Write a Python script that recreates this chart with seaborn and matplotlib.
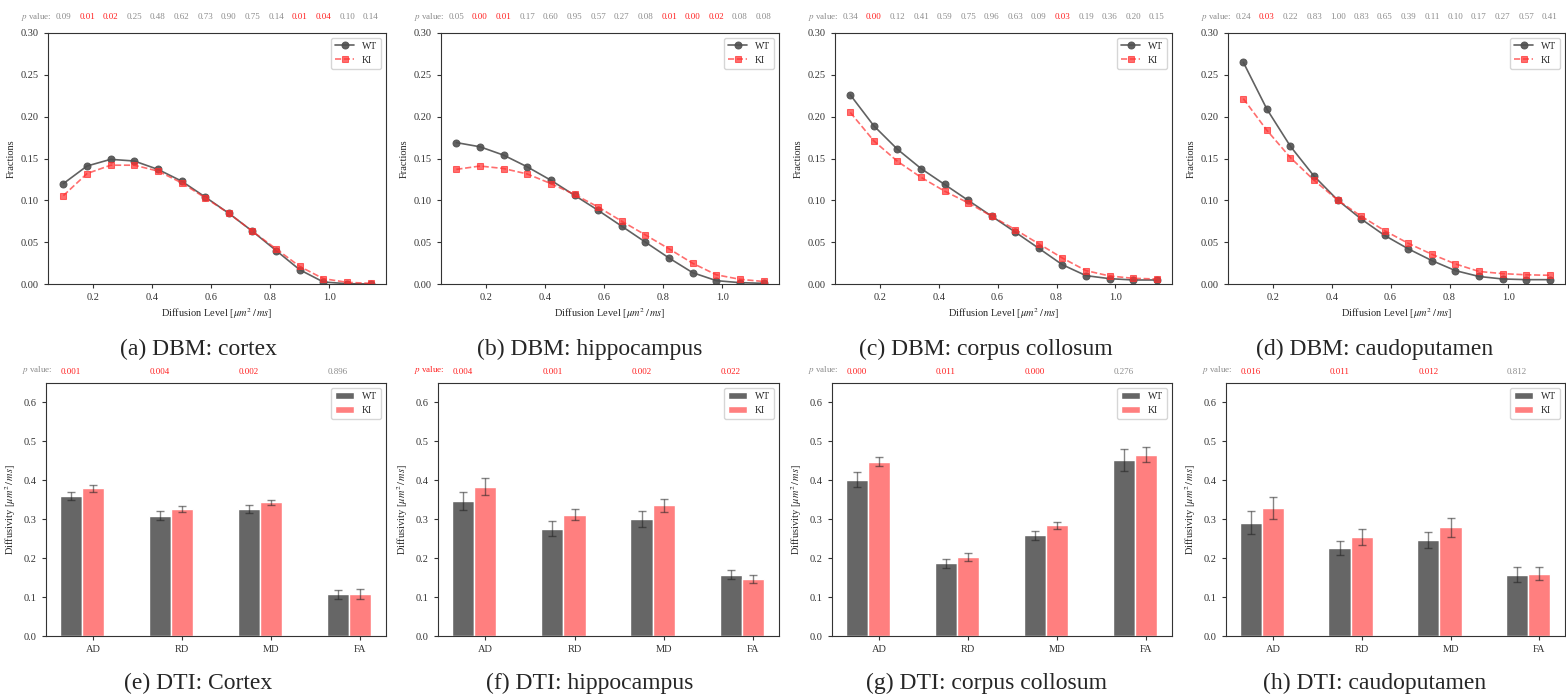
import numpy as np
import pandas as pd
import matplotlib
matplotlib.use('Agg')
import matplotlib.pyplot as plt
import seaborn as sns

# diffusion levels for the DBM histograms
levels = [0.10, 0.18, 0.26, 0.34, 0.42, 0.50, 0.58, 0.66, 0.74, 0.82, 0.90, 0.98, 1.06, 1.14]

cortex_wt = [0.120, 0.141, 0.149, 0.147, 0.137, 0.123, 0.104, 0.0845, 0.063, 0.040, 0.017, 0.0024, 0.0004, 0.0]
cortex_ki = [0.1056, 0.132, 0.142, 0.142, 0.135, 0.121, 0.103, 0.0845, 0.063, 0.042, 0.021, 0.0064, 0.002, 0.0008]
hippo_wt = [0.169, 0.164, 0.154, 0.140, 0.124, 0.106, 0.088, 0.069, 0.050, 0.031, 0.0135, 0.004, 0.0016, 0.0008]
hippo_ki = [0.137, 0.141, 0.138, 0.1315, 0.120, 0.107, 0.092, 0.075, 0.0586, 0.042, 0.0247, 0.011, 0.0056, 0.003]
cc_wt = [0.226, 0.189, 0.161, 0.138, 0.119, 0.100, 0.081, 0.062, 0.0426, 0.023, 0.010, 0.0064, 0.0048, 0.0048]
cc_ki = [0.205, 0.171, 0.1466, 0.1275, 0.111, 0.097, 0.081, 0.065, 0.048, 0.031, 0.016, 0.0096, 0.0068, 0.006]
cp_wt = [0.265, 0.209, 0.1645, 0.129, 0.1004, 0.0777, 0.058, 0.042, 0.028, 0.016, 0.009, 0.006, 0.0052, 0.0052]
cp_ki = [0.2215, 0.1837, 0.151, 0.124, 0.1004, 0.081, 0.0637, 0.0486, 0.0355, 0.024, 0.015, 0.0124, 0.011, 0.0104]

cortex_p = [0.09, 0.01, 0.02, 0.25, 0.48, 0.62, 0.73, 0.90, 0.75, 0.14, 0.01, 0.04, 0.10, 0.14]
hippo_p = [0.05, 0.00, 0.01, 0.17, 0.60, 0.95, 0.57, 0.27, 0.08, 0.01, 0.00, 0.02, 0.08, 0.08]
cc_p = [0.34, 0.00, 0.12, 0.41, 0.59, 0.75, 0.96, 0.63, 0.09, 0.03, 0.19, 0.36, 0.20, 0.15]
cp_p = [0.24, 0.03, 0.22, 0.83, 1.00, 0.83, 0.65, 0.39, 0.11, 0.10, 0.17, 0.27, 0.57, 0.41]

# DTI measures
measures = ['AD', 'RD', 'MD', 'FA']

dti_cortex_wt = [0.360, 0.309, 0.326, 0.107]
dti_cortex_wt_err = [0.010, 0.012, 0.011, 0.011]
dti_cortex_ki = [0.379, 0.326, 0.343, 0.108]
dti_cortex_ki_err = [0.008, 0.007, 0.007, 0.014]
dti_cortex_p = ['0.001', '0.004', '0.002', '0.896']

dti_hippo_wt = [0.347, 0.276, 0.300, 0.158]
dti_hippo_wt_err = [0.024, 0.019, 0.020, 0.012]
dti_hippo_ki = [0.384, 0.312, 0.336, 0.1455]
dti_hippo_ki_err = [0.021, 0.015, 0.017, 0.010]
dti_hippo_p = ['0.004', '0.001', '0.002', '0.022']

dti_cc_wt = [0.402, 0.187, 0.2586, 0.452]
dti_cc_wt_err = [0.019, 0.012, 0.012, 0.028]
dti_cc_ki = [0.448, 0.203, 0.284, 0.466]
dti_cc_ki_err = [0.011, 0.011, 0.009, 0.019]
dti_cc_p = ['0.000', '0.011', '0.000', '0.276']

dti_cp_wt = [0.291, 0.225, 0.2466, 0.158]
dti_cp_wt_err = [0.029, 0.018, 0.021, 0.018]
dti_cp_ki = [0.3296, 0.255, 0.279, 0.160]
dti_cp_ki_err = [0.028, 0.021, 0.025, 0.017]
dti_cp_p = ['0.016', '0.011', '0.012', '0.812']

top_captions = ['(a) DBM: cortex', '(b) DBM: hippocampus', '(c) DBM: corpus collosum', '(d) DBM: caudoputamen']
bottom_captions = ['(e) DTI: Cortex', '(f) DTI: hippocampus', '(g) DTI: corpus collosum', '(h) DTI: caudoputamen']

sns.set_style('ticks')
plt.rcParams['font.family'] = ['Liberation Serif', 'DejaVu Serif']
plt.rcParams['mathtext.fontset'] = 'stix'
plt.rcParams['axes.edgecolor'] = '#333333'
plt.rcParams['xtick.color'] = '#333333'
plt.rcParams['ytick.color'] = '#333333'

GRAY = '#8c8c8c'
RED = '#ff2020'

W, H = 1566, 696
fig = plt.figure(figsize=(W / 100, H / 100), dpi=100)

def px_axes(left, top, right, bottom):
    return fig.add_axes([left / W, 1 - bottom / H, (right - left) / W, (bottom - top) / H])

top_lefts = [48, 441, 835, 1228]
top_rights = [386, 779, 1172, 1565]
bot_lefts = [46, 438, 832, 1226]
bot_rights = [386, 779, 1172, 1565]
caption_x = [198, 590, 986, 1375]

line_data = [(cortex_wt, cortex_ki, cortex_p), (hippo_wt, hippo_ki, hippo_p),
             (cc_wt, cc_ki, cc_p), (cp_wt, cp_ki, cp_p)]

for i, (wt, ki, pv) in enumerate(line_data):
    ax = px_axes(top_lefts[i], 33, top_rights[i], 284)
    sns.lineplot(x=levels, y=wt, ax=ax, color='#505050', marker='o', markersize=5,
                 markeredgecolor='#505050', linewidth=1.2, label='WT', alpha=0.9)
    sns.lineplot(x=levels, y=ki, ax=ax, color='#ff3030', marker='s', markersize=5,
                 linestyle='--', linewidth=1.2, label='KI', alpha=0.7,
                 markeredgecolor='#ff3030')
    ax.set_ylim(0, 0.30)
    ax.set_yticks(np.arange(0, 0.31, 0.05))
    ax.set_yticklabels(['%.2f' % v for v in np.arange(0, 0.31, 0.05)])
    ax.set_xticks([0.2, 0.4, 0.6, 0.8, 1.0])
    ax.tick_params(labelsize=7.5, length=3, width=0.8)
    ax.set_ylabel('Fractions', fontsize=7.5)
    ax.set_xlabel(r'Diffusion Level [$\mu m^2\,/\,ms$]', fontsize=7.5, labelpad=3)
    ax.legend(loc='upper right', fontsize=7, frameon=True)
    tr = ax.get_xaxis_transform()
    for x, p in zip(levels, pv):
        ax.text(x, 1.064, '%.2f' % p, transform=tr, ha='center', va='center',
                fontsize=6.5, color=RED if p < 0.05 else GRAY)
    lab_col = RED if pv[-1] < 0.05 else GRAY
    ax.text(0.012, 1.064, r'$p$ value:', transform=ax.transAxes, ha='right', va='center',
            fontsize=6.5, color=lab_col)
    fig.text(caption_x[i] / W, 1 - 355 / H, top_captions[i], ha='center', va='baseline',
             fontsize=17)

bar_data = [(dti_cortex_wt, dti_cortex_wt_err, dti_cortex_ki, dti_cortex_ki_err, dti_cortex_p),
            (dti_hippo_wt, dti_hippo_wt_err, dti_hippo_ki, dti_hippo_ki_err, dti_hippo_p),
            (dti_cc_wt, dti_cc_wt_err, dti_cc_ki, dti_cc_ki_err, dti_cc_p),
            (dti_cp_wt, dti_cp_wt_err, dti_cp_ki, dti_cp_ki_err, dti_cp_p)]

for i, (wt, wte, ki, kie, pv) in enumerate(bar_data):
    ax = px_axes(bot_lefts[i], 383, bot_rights[i], 636)
    df = pd.DataFrame({'measure': measures * 2,
                       'value': wt + ki,
                       'group': ['WT'] * 4 + ['KI'] * 4})
    sns.barplot(data=df, x='measure', y='value', hue='group', ax=ax,
                palette={'WT': '#666666', 'KI': '#ff7f7f'}, width=0.5, saturation=1,
                errorbar=None, edgecolor='white', linewidth=1)
    wt_bars = ax.containers[0]
    ki_bars = ax.containers[1]
    wt_x = [b.get_x() + b.get_width() / 2 for b in wt_bars]
    ki_x = [b.get_x() + b.get_width() / 2 for b in ki_bars]
    ax.errorbar(wt_x, wt, yerr=wte, fmt='none', ecolor='#222222', elinewidth=1,
                capsize=3, capthick=1, alpha=0.55)
    ax.errorbar(ki_x, ki, yerr=kie, fmt='none', ecolor='#222222', elinewidth=1,
                capsize=3, capthick=1, alpha=0.55)
    ax.set_xticks(ki_x)
    ax.set_xticklabels(measures)
    ax.set_xlim(wt_x[0] - 0.28, ki_x[-1] + 0.29)
    ax.set_ylim(0, 0.65)
    ax.set_yticks([0.0, 0.1, 0.2, 0.3, 0.4, 0.5, 0.6])
    ax.set_yticklabels(['0.0', '0.1', '0.2', '0.3', '0.4', '0.5', '0.6'])
    ax.tick_params(labelsize=7.5, length=3, width=0.8)
    ax.set_xlabel('')
    ax.set_ylabel(r'Diffusivity [$\mu m^2\,/\,ms$]', fontsize=7.5)
    ax.legend(loc='upper right', fontsize=7, frameon=True)
    tr = ax.get_xaxis_transform()
    for x, p in zip(wt_x, pv):
        ax.text(x, 1.043, p, transform=tr, ha='center', va='center',
                fontsize=6.5, color=RED if float(p) < 0.05 else GRAY)
    lab_col = RED if float(pv[-1]) < 0.05 else GRAY
    ax.text(0.02, 1.05, r'$p$ value:', transform=ax.transAxes, ha='right', va='center',
            fontsize=6.5, color=lab_col)
    fig.text(caption_x[i] / W, 1 - 689 / H, bottom_captions[i], ha='center', va='baseline',
             fontsize=17)

fig.savefig('out.png', dpi=100)
